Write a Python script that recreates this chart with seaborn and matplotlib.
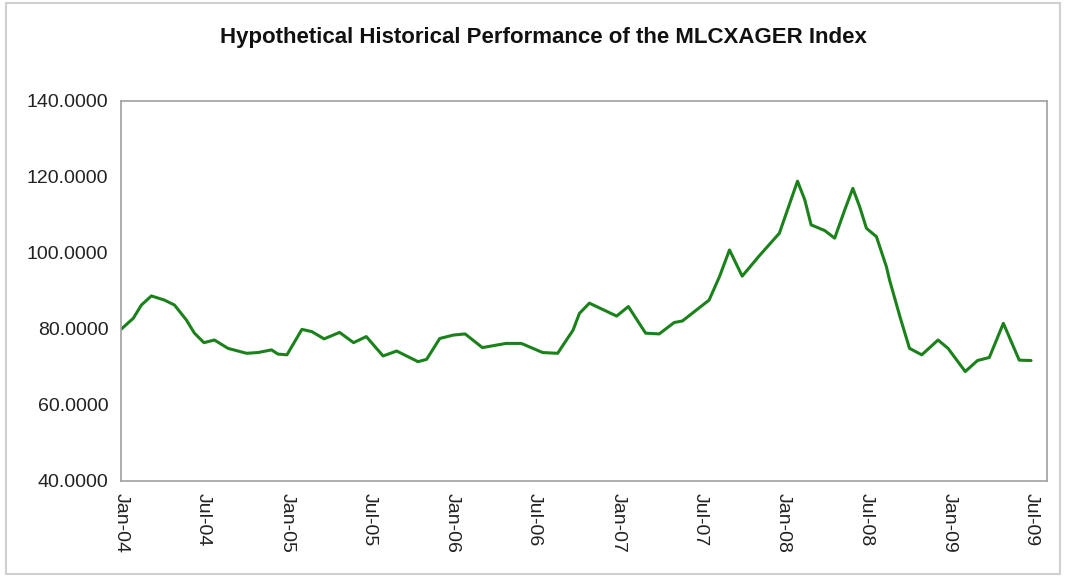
import matplotlib
matplotlib.use("Agg")
import matplotlib.dates as mdates
import matplotlib.pyplot as plt
import pandas as pd
import seaborn as sns
from matplotlib.patches import Rectangle

# Index level (irregular dates at the turning points)
dates = [
    "2004-01-01", "2004-01-28", "2004-02-15", "2004-03-08", "2004-04-06", "2004-04-28",
    "2004-05-24", "2004-06-11", "2004-07-02", "2004-07-25", "2004-08-24", "2004-10-04",
    "2004-10-29", "2004-11-28", "2004-12-12", "2005-01-01", "2005-02-03", "2005-02-25",
    "2005-03-24", "2005-04-27", "2005-05-28", "2005-06-25", "2005-08-01", "2005-08-31",
    "2005-10-17", "2005-11-05", "2005-12-04", "2006-01-03", "2006-01-29", "2006-03-08",
    "2006-04-29", "2006-06-02", "2006-07-19", "2006-08-21", "2006-09-24", "2006-10-08",
    "2006-10-30", "2006-12-29", "2007-01-24", "2007-03-03", "2007-04-02", "2007-05-05",
    "2007-05-23", "2007-07-21", "2007-08-13", "2007-09-04", "2007-10-02", "2007-11-09",
    "2007-12-23", "2008-01-15", "2008-02-01", "2008-02-17", "2008-03-02", "2008-04-01",
    "2008-04-23", "2008-05-15", "2008-06-02", "2008-06-17", "2008-07-02", "2008-07-24",
    "2008-08-15", "2008-08-22", "2008-09-14", "2008-10-05", "2008-11-01", "2008-12-07",
    "2008-12-29", "2009-02-05", "2009-03-04", "2009-03-30", "2009-04-30", "2009-06-04",
    "2009-06-30",
]
index_level = [
    79.9, 82.8, 86.3, 88.7, 87.6, 86.3,
    82.4, 78.9, 76.4, 77.1, 74.9, 73.6,
    73.8, 74.5, 73.4, 73.2, 79.9, 79.3,
    77.4, 79.1, 76.4, 78.0, 72.9, 74.2,
    71.4, 72.0, 77.5, 78.4, 78.7, 75.1,
    76.2, 76.2, 73.8, 73.6, 79.7, 84.1,
    86.8, 83.4, 85.9, 78.9, 78.7, 81.7,
    82.1, 87.6, 93.8, 100.8, 93.9, 99.3,
    105.2, 113.1, 118.9, 114.0, 107.4, 105.9,
    103.9, 111.3, 117.0, 112.2, 106.5, 104.3,
    96.4, 92.9, 83.2, 74.9, 73.2, 77.1,
    74.9, 68.8, 71.7, 72.5, 81.5, 71.8,
    71.7,
]
y_ticks = [40, 60, 80, 100, 120, 140]

df = pd.DataFrame({"date": pd.to_datetime(dates), "level": index_level})

sns.set_theme(style="white")
plt.rcParams["font.family"] = ["Liberation Sans", "DejaVu Sans"]

fig = plt.figure(figsize=(10.65, 5.77), dpi=100)
ax = fig.add_axes([0.1136, 0.1664, 0.8694, 0.6586])

sns.lineplot(data=df, x="date", y="level", ax=ax, color="#1b821b", linewidth=2.2)

ax.set_ylim(40, 140)
ax.set_yticks(y_ticks)
ax.set_yticklabels([f"{v:.4f}" for v in y_ticks])
ax.set_xlim(pd.Timestamp("2004-01-01"), pd.Timestamp("2009-08-04"))
ax.xaxis.set_major_locator(mdates.MonthLocator(bymonth=[1, 7]))
ax.xaxis.set_major_formatter(mdates.DateFormatter("%b-%y"))
ax.set_xlabel("")
ax.set_ylabel("")

for spine in ax.spines.values():
    spine.set_visible(True)
    spine.set_color("#a0a0a0")
    spine.set_linewidth(1.2)

ax.tick_params(axis="both", which="major", direction="out", length=5, width=1,
               color="#a0a0a0", labelsize=14, labelcolor="#222222", pad=4)
ax.tick_params(axis="x", labelrotation=-90)
for lbl in ax.get_xticklabels():
    lbl.set_ha("center")
    lbl.set_va("top")

fig.text(0.51, 0.935, "Hypothetical Historical Performance of the MLCXAGER Index",
         ha="center", va="center", fontsize=16, fontweight="bold", color="#111111")

# light outer frame like the original chart object
fig.patches.append(Rectangle((6 / 1065, 3 / 577), 1054 / 1065, 571 / 577,
                             transform=fig.transFigure, fill=False,
                             edgecolor="#d0d0d0", linewidth=1.5))

fig.savefig("out.png", dpi=100)
